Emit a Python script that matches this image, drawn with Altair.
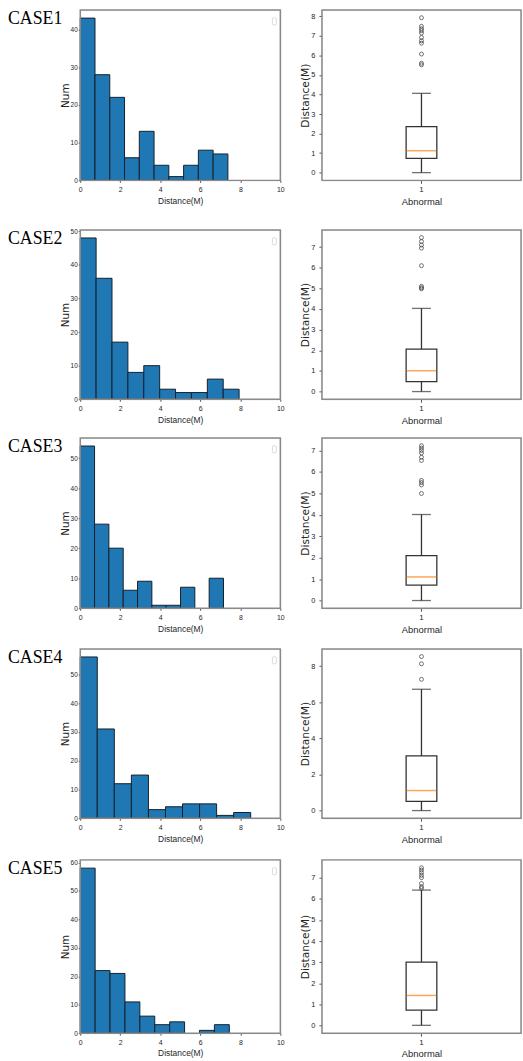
import altair as alt
import numpy as np
import pandas as pd

# ---------------- data ----------------
cases = ["CASE1", "CASE2", "CASE3", "CASE4", "CASE5"]

# histogram: 10 equal bins from 0 to max value
hist_max = [7.38, 7.94, 7.16, 8.52, 7.45]
hist_counts = [
    [43, 28, 22, 6, 13, 4, 1, 4, 8, 7],
    [48, 36, 17, 8, 10, 3, 2, 2, 6, 3],
    [54, 28, 20, 6, 9, 1, 1, 7, 0, 10],
    [56, 31, 12, 15, 3, 4, 5, 5, 1, 2],
    [58, 22, 21, 11, 6, 3, 4, 0, 1, 3],
]
hist_yticks = [
    [0, 10, 20, 30, 40],
    [0, 10, 20, 30, 40, 50],
    [0, 10, 20, 30, 40, 50],
    [0, 10, 20, 30, 40, 50],
    [0, 10, 20, 30, 40, 50, 60],
]
hist_xticks = [0, 2, 4, 6, 8, 10]

# box plot statistics
box_lo = [0.0, 0.0, 0.0, 0.0, 0.0]
box_q1 = [0.73, 0.48, 0.72, 0.51, 0.72]
box_med = [1.12, 1.01, 1.10, 1.11, 1.42]
box_q3 = [2.36, 2.06, 2.09, 3.03, 3.00]
box_hi = [4.06, 4.03, 4.01, 6.72, 6.42]
box_outliers = [
    [5.52, 5.60, 6.07, 6.63, 6.75, 6.92, 7.15, 7.27, 7.37, 7.49, 7.93],
    [4.98, 5.03, 5.10, 6.10, 6.95, 7.10, 7.27, 7.46],
    [4.99, 5.39, 5.50, 5.60, 6.53, 6.68, 6.88, 7.00, 7.11, 7.22],
    [7.27, 8.13, 8.53],
    [6.50, 6.58, 6.73, 7.01, 7.12, 7.25, 7.37, 7.48],
]
box_yticks = [
    [0, 1, 2, 3, 4, 5, 6, 7, 8],
    [0, 1, 2, 3, 4, 5, 6, 7],
    [0, 1, 2, 3, 4, 5, 6, 7],
    [0, 2, 4, 6, 8],
    [0, 1, 2, 3, 4, 5, 6, 7],
]
box_category = ["1"]

# ---------------- layout / style ----------------
plot_h = [172, 171, 172, 171, 175]
gap_top = [4, 16, 5, 7, 8]
gap_bottom = [32, 32, 32, 32, 27]
HIST_W = 202
BOX_W = 201
TXT = "#262626"
TICK = "#555555"
FRAME = "#8a8a8a"


def one():
    return pd.DataFrame({"s": [0]})


def spacer(x1, x2, y1, y2):
    return alt.Chart(one()).mark_rect(opacity=0).encode(
        x=alt.value(x1), x2=alt.value(x2), y=alt.value(y1), y2=alt.value(y2)
    )


def frame(w, h):
    return alt.Chart(one()).mark_rect(
        fillOpacity=0, stroke=FRAME, strokeWidth=1.5
    ).encode(x=alt.value(0), x2=alt.value(w), y=alt.value(0), y2=alt.value(h))


def hist_chart(i):
    edges = np.linspace(0, hist_max[i], 11)
    df = pd.DataFrame({"start": edges[:-1], "end": edges[1:], "count": hist_counts[i]})
    df = df[df["count"] > 0]
    ymax = max(hist_counts[i]) * 1.05
    bars = alt.Chart(df).mark_bar(
        fill="#1f77b4", stroke="#15202b", strokeWidth=1
    ).encode(
        x=alt.X(
            "start:Q",
            scale=alt.Scale(domain=[0, 10], nice=False, zero=False),
            axis=alt.Axis(
                values=hist_xticks, title="Distance(M)", titleFont="Liberation Sans",
                titleFontSize=8.5, titleFontWeight="normal", titleColor=TXT, titlePadding=4,
                labelFont="Liberation Sans", labelFontSize=7, labelColor=TXT, labelPadding=3,
                tickSize=2, tickColor=TICK, domain=False, grid=False,
                labelFlush=False, labelOverlap=False,
            ),
        ),
        x2="end:Q",
        y=alt.Y(
            "count:Q",
            scale=alt.Scale(domain=[0, ymax], nice=False),
            axis=alt.Axis(
                values=hist_yticks[i], title="Num", titleFont="DejaVu Sans",
                titleFontSize=10.5, titleFontWeight="normal", titleColor=TXT, titlePadding=0,
                labelFont="Liberation Sans", labelFontSize=6.5, labelColor=TXT, labelPadding=1,
                tickSize=2, tickColor=TICK, domain=False, grid=False,
                labelFlush=False, labelOverlap=False,
            ),
        ),
        y2=alt.datum(0),
    )
    label = alt.Chart(pd.DataFrame({"case": [cases[i]]})).mark_text(
        font="Liberation Serif", fontSize=18, align="left", baseline="top", color="black"
    ).encode(x=alt.value(-73), y=alt.value(0), text="case:N")
    legend_box = alt.Chart(one()).mark_rect(
        fillOpacity=0, stroke="#d0d0d0", strokeWidth=0.8, cornerRadius=1
    ).encode(
        x=alt.value(HIST_W - 8), x2=alt.value(HIST_W - 4), y=alt.value(8), y2=alt.value(15)
    )
    sp = spacer(0, HIST_W + 6, -gap_top[i], plot_h[i] + gap_bottom[i])
    return alt.layer(bars, label, legend_box, frame(HIST_W, plot_h[i]), sp).properties(
        width=HIST_W, height=plot_h[i]
    )


def box_chart(i):
    stats = pd.DataFrame({
        "g": box_category,
        "lo": [box_lo[i]], "q1": [box_q1[i]], "med": [box_med[i]],
        "q3": [box_q3[i]], "hi": [box_hi[i]],
    })
    outl = pd.DataFrame({"g": box_category * len(box_outliers[i]), "v": box_outliers[i]})
    top = max(box_outliers[i] + [box_hi[i]])
    yscale = alt.Scale(domain=[-0.05 * top, 1.05 * top], nice=False, zero=False)
    yaxis = alt.Axis(
        values=box_yticks[i], title="Distance(M)", titleFont="DejaVu Sans",
        titleFontSize=10.8, titleFontWeight="normal", titleColor=TXT, titlePadding=0,
        labelFont="Liberation Sans", labelFontSize=7.5, labelColor=TXT, labelPadding=4,
        tickSize=3, tickColor=TICK, domain=False, grid=False,
        labelFlush=False, labelOverlap=False,
    )
    xenc = alt.X(
        "g:N",
        scale=alt.Scale(paddingInner=0, paddingOuter=0),
        axis=alt.Axis(
            title="Abnormal", titleFont="Liberation Sans", titleFontSize=9.5,
            titleFontWeight="normal", titleColor=TXT, titlePadding=3,
            labelFont="Liberation Sans", labelFontSize=8, labelColor=TXT, labelPadding=2,
            labelAngle=0, tickSize=3, tickColor=TICK, domain=False, grid=False,
        ),
    )

    def Y(f):
        return alt.Y(f, scale=yscale, axis=yaxis)

    base = alt.Chart(stats)
    w_lo = base.mark_rule(color="#333333", strokeWidth=1.3).encode(x=xenc, y=Y("lo:Q"), y2="q1:Q")
    w_hi = base.mark_rule(color="#333333", strokeWidth=1.3).encode(x=xenc, y=Y("q3:Q"), y2="hi:Q")
    box = base.mark_bar(size=31, fill="white", stroke="#333333", strokeWidth=1.3).encode(
        x=xenc, y=Y("q1:Q"), y2="q3:Q"
    )
    med = base.mark_tick(size=30, thickness=1.5, color="#ff7f0e", orient="horizontal").encode(
        x=xenc, y=Y("med:Q")
    )
    cap_lo = base.mark_tick(size=19, thickness=1.3, color="#333333", orient="horizontal").encode(
        x=xenc, y=Y("lo:Q")
    )
    cap_hi = base.mark_tick(size=19, thickness=1.3, color="#333333", orient="horizontal").encode(
        x=xenc, y=Y("hi:Q")
    )
    pts = alt.Chart(outl).mark_point(
        shape="circle", filled=False, size=16, color="#333333", strokeWidth=1
    ).encode(x=xenc, y=Y("v:Q"))
    sp = spacer(-30, BOX_W, -gap_top[i], plot_h[i] + gap_bottom[i])
    return alt.layer(
        w_lo, w_hi, box, med, cap_lo, cap_hi, pts, frame(BOX_W, plot_h[i]), sp
    ).properties(width=BOX_W, height=plot_h[i])


rows = [alt.hconcat(hist_chart(i), box_chart(i), spacing=4) for i in range(len(cases))]
chart = alt.vconcat(*rows, spacing=0).properties(
    padding={"left": 7, "top": 0, "right": 0, "bottom": 0}
).configure_view(strokeWidth=0).configure(background="white")

chart.save("out.html", embed_options={"renderer": "svg", "actions": False})
